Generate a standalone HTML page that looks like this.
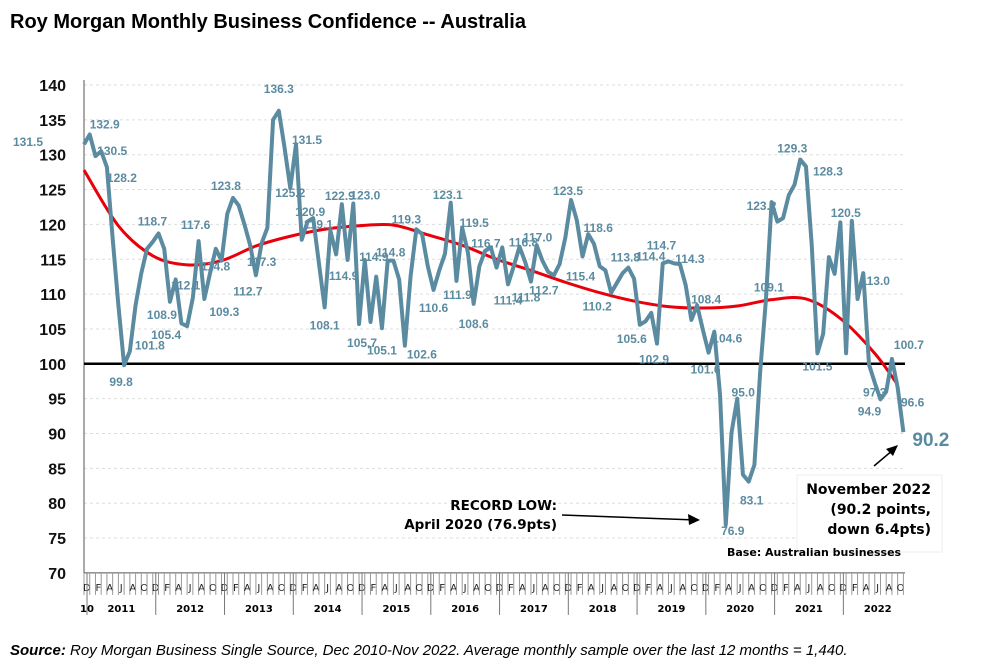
<!DOCTYPE html>
<html><head><meta charset="utf-8"><style>
body{margin:0;background:#fff;width:1006px;height:671px;overflow:hidden;font-family:"Liberation Sans",sans-serif}
svg{position:absolute;left:0;top:0}
</style></head><body>
<svg id="chart" width="1006" height="671">
<text x="10" y="28" font-size="20" font-weight="bold" fill="#000">Roy Morgan Monthly Business Confidence -- Australia</text>
<g id="grid"></g><g id="axes"></g><g id="trend"></g><g id="series"></g><g id="labels"></g>
<g font-family="DejaVu Sans, sans-serif" font-size="13.5" font-weight="bold" text-anchor="end">
<text x="557" y="510">RECORD LOW:</text><text x="557" y="529">April 2020 (76.9pts)</text>
<line x1="562" y1="515" x2="696" y2="520" stroke="#000" stroke-width="1.5"/>
<path d="M700,520 L688,514 L689,525 Z" fill="#000"/>
</g>
<g font-family="DejaVu Sans, sans-serif" font-size="14" font-weight="bold" text-anchor="end">
<rect x="797" y="475" width="145" height="77" fill="#fff" stroke="#e8eef6"/>
<text x="931" y="494">November 2022</text><text x="931" y="514">(90.2 points,</text><text x="931" y="534">down 6.4pts)</text>
<line x1="874" y1="466" x2="893" y2="450" stroke="#000" stroke-width="1.5"/>
<path d="M898,445 L886,449 L893,456 Z" fill="#000"/>
</g>
<text x="727" y="556" font-family="DejaVu Sans, sans-serif" font-size="11" font-weight="bold">Base: Australian businesses</text>
<text x="10" y="655" font-size="15" font-style="italic"><tspan font-weight="bold">Source:</tspan> Roy Morgan Business Single Source, Dec 2010-Nov 2022. Average monthly sample over the last 12 months = 1,440.</text>
</svg>
<script>
const values=[131.5,132.9,129.8,130.5,128.2,118,108.4,99.8,101.8,108.4,113,116.5,
117.5,118.7,116.5,108.9,112.1,105.8,105.4,109.5,117.6,109.3,113,116.5,
114.8,121.5,123.8,122.7,120,117,112.7,117.3,119.5,135,136.3,131,
125.2,131.5,117.8,120.4,120.9,114.4,108.1,119.1,115.7,122.9,114.9,123.0,
105.7,114.9,106,112.5,105.1,114.8,114.8,112.1,102.6,112.6,119.3,118.6,
114,110.6,113.4,115.8,123.1,111.9,119.5,116,108.6,114,116.2,116.7,
113.8,116.7,111.4,114,116.8,114.6,111.8,117.0,114.8,113.2,112.7,114.3,
118.1,123.5,120.6,115.4,118.6,117.2,114,113.4,110.2,111.6,113,113.8,
112.2,105.6,106.1,107.3,102.9,114.4,114.7,114.4,114.3,111.3,106.3,108.4,
104.9,101.6,104.6,95.6,76.9,90.1,95.0,84.1,83.1,85.5,98.8,109.1,
123.2,120.4,120.9,124.2,125.7,129.3,128.3,117.1,101.5,104.3,115.3,112.9,
120.3,101.5,120.5,109.3,113.0,99.9,97.3,94.9,96.0,100.7,96.6,90.2];
const trendMonths=[0,6,12,18,24,30,36,42,48,54,60,66,72,78,84,90,96,102,108,114,120,126,132,138,142];
const trendValues=[127.8,119.8,115.5,114.2,114.8,116.9,118.3,119.3,119.8,119.9,118.5,117,115,113.4,111.7,110.2,109,108.2,108,108.3,109.2,109.3,106.5,101.5,97];
const yTicks=[70,75,80,85,90,95,100,105,110,115,120,125,130,135,140];
const monthLetters=["D","F","A","J","A","O"];
const years=["2011","2012","2013","2014","2015","2016","2017","2018","2019","2020","2021","2022"];
const labelIdx=[0,1,3,4,7,8,13,15,16,18,20,21,24,26,30,31,34,36,37,40,42,43,45,46,47,48,49,52,53,56,58,61,64,65,66,68,71,74,76,78,79,82,85,87,88,92,95,97,100,101,102,104,107,109,110,112,114,116,119,120,125,126,128,134,136,138,139,141,142];
const labelOff={0:[-56,-2],1:[15,-10],3:[11,0],4:[15,11],7:[-3,17],8:[20,-6],13:[-6,-12],15:[-8,13],16:[10,6],18:[-21,9],20:[-3,-16],21:[20,13],24:[-6,6],26:[-7,-12],30:[-8,16],31:[0,19],34:[0,-22],36:[0,5],37:[11,-4],40:[-3,-6],42:[0,18],43:[-12,-6],45:[-2,-8],46:[-4,16],47:[12,-8],48:[3,19],49:[9,-3],52:[0,22],53:[3,-8],56:[17,9],58:[-10,-10],61:[0,18],64:[-3,-8],65:[1,14],66:[12,-5],68:[0,20],71:[-5,-4],74:[0,16],76:[4,-4],78:[-5,16],79:[1,-8],82:[-10,15],85:[-3,-9],87:[-2,20],88:[10,-6],92:[-14,14],95:[-3,-10],97:[-8,14],100:[-3,16],101:[-12,-7],102:[-7,-16],104:[10,-5],107:[9,-6],109:[-3,17],110:[13,7],112:[7,6],114:[6,-6],116:[3,19],119:[3,-13],120:[-10,4],125:[-8,-11],126:[22,5],128:[0,13],134:[-6,-8],136:[12,8],138:[0,10],139:[-11,12],141:[17,-14],142:[15,15]};
const NS="http://www.w3.org/2000/svg";
const X0=84,DX=5.73,Y0=85,PY=6.97;
function x(i){return X0+i*DX;}
function y(v){return Y0+(140-v)*PY;}
function mk(tag,attrs,parent){const e=document.createElementNS(NS,tag);for(const k in attrs)e.setAttribute(k,attrs[k]);parent.appendChild(e);return e;}
const grid=document.getElementById('grid'),axes=document.getElementById('axes');
yTicks.forEach(t=>{
 if(t!==70&&t!==100){const l=mk('line',{x1:X0,x2:903,y1:y(t),y2:y(t),stroke:'#ddd','stroke-dasharray':'3,3'},grid);
 
 }
 const tx=mk('text',{x:66,y:y(t)+6,'text-anchor':'end','font-size':16,'font-weight':'bold',fill:'#111'},axes);
 tx.textContent=t;
 
 
});
const ax=mk('path',{d:`M${X0},80 V${y(70)} H905`,stroke:'#555',fill:'none','stroke-width':1},axes);


for(let i=0;i<144;i++){
 const tk=mk('line',{x1:x(i),x2:x(i),y1:y(70),y2:y(70)+22,stroke:'#999','stroke-width':1},axes);
 
 
 if(i%2===0){const m=mk('text',{x:x(i)+2.9,y:y(70)+18,'text-anchor':'middle','font-size':10,fill:'#222','font-family':'DejaVu Sans, sans-serif'},axes);
 m.textContent=monthLetters[(i/2)%6];
 
 }
}
const t10=mk('text',{x:x(0)+3,y:y(70)+39,'text-anchor':'middle','font-size':10,'font-weight':'bold','font-family':'DejaVu Sans, sans-serif'},axes);
t10.textContent='10';


years.forEach((yr,k)=>{
 const s=x(12*k)+3, e=x(12*k+12)+3;
 const sep=mk('line',{x1:s,x2:s,y1:y(70),y2:y(70)+42,stroke:'#777'},axes);
 
 
 const t=mk('text',{x:(s+e)/2,y:y(70)+39,'text-anchor':'middle','font-size':10,'font-weight':'bold','font-family':'DejaVu Sans, sans-serif'},axes);
 t.textContent=yr;
 
 
});
const base=mk('line',{x1:X0,x2:905,y1:y(100),y2:y(100),stroke:'#000','stroke-width':2.5},axes);


const tp=trendMonths.map((m,k)=>[x(m),y(trendValues[k])]);
let d=`M${tp[0][0]},${tp[0][1]}`;
for(let k=0;k<tp.length-1;k++){const p0=tp[k-1]||tp[k],p1=tp[k],p2=tp[k+1],p3=tp[k+2]||p2;
 d+=` C${p1[0]+(p2[0]-p0[0])/6},${p1[1]+(p2[1]-p0[1])/6} ${p2[0]-(p3[0]-p1[0])/6},${p2[1]-(p3[1]-p1[1])/6} ${p2[0]},${p2[1]}`;}
const tr=mk('path',{d:d,stroke:'#e8000b',fill:'none','stroke-width':3},document.getElementById('trend'));


const ln=mk('path',{d:'M'+values.map((v,i)=>x(i)+','+y(v)).join(' L'),stroke:'#5b8ba0',fill:'none','stroke-width':4,'stroke-linejoin':'round'},document.getElementById('series'));


const lg=document.getElementById('labels');
labelIdx.forEach(i=>{const o=labelOff[i]||[0,-8];
 const t=mk('text',{x:x(i)+o[0],y:y(values[i])+o[1]+4,'text-anchor':'middle','font-size':12,'font-weight':'bold',fill:'#5b8ba0'},lg);
 t.textContent=values[i].toFixed(1);
 
 });
const last=values.length-1;
const lt=mk('text',{x:x(last)+9,y:y(values[last])+14,'font-size':19,'font-weight':'bold',fill:'#5b8ba0'},lg);
lt.textContent=values[last].toFixed(1);


</script>
</body></html>
